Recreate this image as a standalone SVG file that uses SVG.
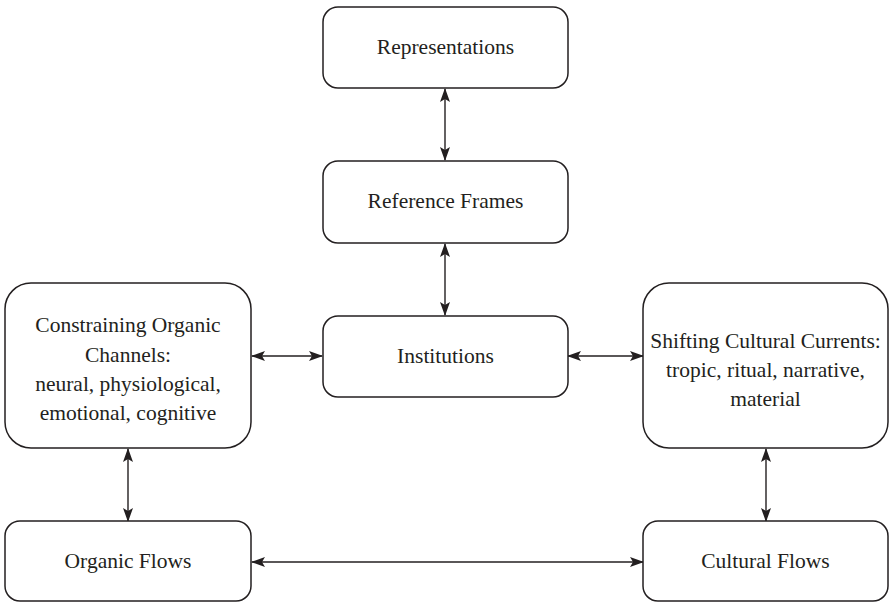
<svg xmlns="http://www.w3.org/2000/svg" width="890" height="605" viewBox="0 0 890 605">
<style>
.box{fill:#fff;stroke:#231f20;stroke-width:1.5}
.t{font-family:"Liberation Serif","Times New Roman",serif;font-size:21.5px;fill:#231f20;text-anchor:middle}
.c{stroke:#231f20;stroke-width:1.4;fill:none;marker-start:url(#ah);marker-end:url(#ah)}
</style>
<defs>
<marker id="ah" viewBox="0 0 14 10" refX="13" refY="5" markerWidth="14" markerHeight="10" markerUnits="userSpaceOnUse" orient="auto-start-reverse">
<path d="M0,0 L14,5 L0,10 L3,5 Z" fill="#231f20"/>
</marker>
</defs>
<rect width="890" height="605" fill="#fff"/>
<g id="connectors">
<line class="c" x1="445" y1="89" x2="445" y2="160"/>
<line class="c" x1="445" y1="244" x2="445" y2="315"/>
<line class="c" x1="252" y1="356" x2="322" y2="356"/>
<line class="c" x1="568" y1="356" x2="643" y2="356"/>
<line class="c" x1="128" y1="449" x2="128" y2="521"/>
<line class="c" x1="766" y1="449" x2="766" y2="521"/>
<line class="c" x1="252" y1="562" x2="643" y2="562"/>
</g>
<g id="representations">
<rect class="box" x="323" y="7" width="245" height="81" rx="15"/>
<text class="t" x="445.5" y="54">Representations</text>
</g>
<g id="reference-frames">
<rect class="box" x="323" y="161" width="245" height="82" rx="15"/>
<text class="t" x="445.5" y="208">Reference Frames</text>
</g>
<g id="institutions">
<rect class="box" x="323" y="316" width="245" height="81" rx="15"/>
<text class="t" x="445.5" y="363">Institutions</text>
</g>
<g id="organic-channels">
<rect class="box" x="5" y="283" width="246" height="165" rx="26"/>
<text class="t" x="128" y="332">Constraining Organic</text>
<text class="t" x="128" y="362">Channels:</text>
<text class="t" x="128" y="391">neural, physiological,</text>
<text class="t" x="128" y="420">emotional, cognitive</text>
</g>
<g id="cultural-currents">
<rect class="box" x="643" y="283" width="245" height="165" rx="26"/>
<text class="t" x="765.5" y="348">Shifting Cultural Currents:</text>
<text class="t" x="765.5" y="377">tropic, ritual, narrative,</text>
<text class="t" x="765.5" y="406">material</text>
</g>
<g id="organic-flows">
<rect class="box" x="5" y="521" width="246" height="80" rx="15"/>
<text class="t" x="128" y="568">Organic Flows</text>
</g>
<g id="cultural-flows">
<rect class="box" x="643" y="521" width="245" height="80" rx="15"/>
<text class="t" x="765.5" y="568">Cultural Flows</text>
</g>
</svg>
